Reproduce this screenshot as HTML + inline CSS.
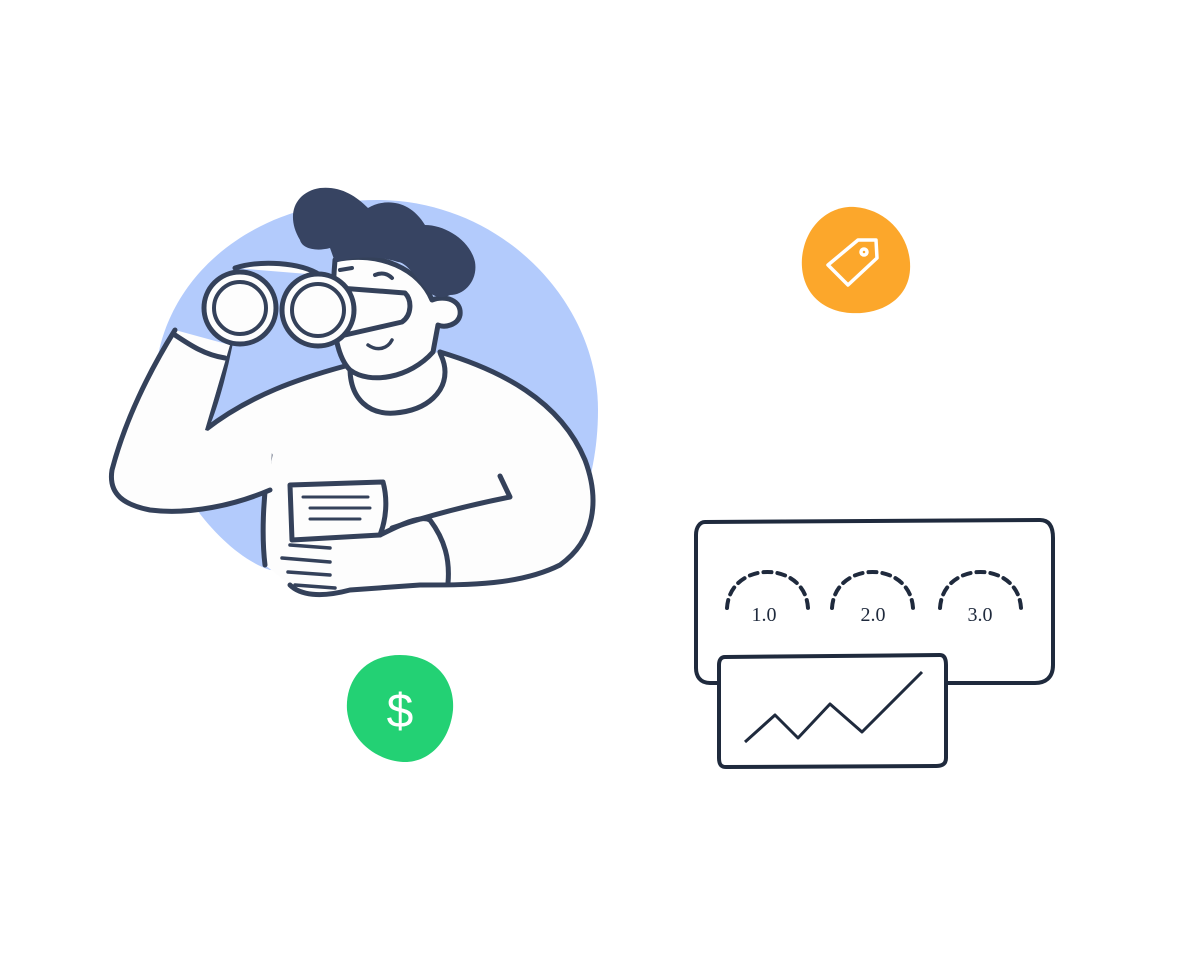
<!DOCTYPE html>
<html><head><meta charset="utf-8"><style>html,body{margin:0;padding:0;background:#fff}svg{display:block}</style></head>
<body>
<svg width="1200" height="959" viewBox="0 0 1200 959" xmlns="http://www.w3.org/2000/svg">
<rect width="1200" height="959" fill="#fff"/>
<path d="M377 200 C500 200 598 300 598 410 C598 470 580 520 560 545 L270 570 C240 560 210 530 190 500 C165 460 155 420 155 380 C160 280 250 200 377 200 Z" fill="#b3cbfc"/>
<g fill="none" stroke="#34415a" stroke-width="5" stroke-linecap="round" stroke-linejoin="round">
<path d="M205 430 C250 395 300 378 349 365 L440 352 C500 370 560 400 585 460 C600 500 595 540 560 565 C520 585 470 585 420 585 L350 590 C320 598 300 595 290 585 L265 565 C262 540 262 500 270 455 Z" fill="#fdfdfd" stroke="none"/>
<path d="M440 352 C500 370 560 400 585 460 C600 500 595 540 560 565 C520 585 470 585 420 585 L350 590 C320 598 300 595 290 585"/>
<path d="M349 365 C300 378 250 395 205 430 C215 410 225 370 230 345"/>
<path d="M270 455 C262 500 262 540 265 565" />
<path d="M175 330 C150 370 125 420 112 470 C108 495 125 505 150 510 C190 515 235 505 270 490 L272 450 L205 430 L230 345 Z" fill="#fdfdfd" stroke="none"/>
<path d="M175 330 C150 370 125 420 112 470 C108 495 125 505 150 510 C190 515 235 505 270 490"/>
<path d="M175 335 C190 345 205 355 225 358" />
<path d="M290 485 L383 482 C388 500 386 520 380 535 L292 540 Z" fill="#fdfdfd"/>
<path d="M303 497 L368 497 M310 508 L370 508 M310 519 L360 519" stroke-width="3"/>
<path d="M380 535 C400 525 420 515 430 520 C445 540 450 560 448 583" fill="#fdfdfd"/>
<path d="M392 528 C430 515 470 505 510 497 L500 476" />
<path d="M290 545 L330 548 M282 558 L330 562 M288 572 L330 575 M295 585 L335 588" stroke-width="3.5"/>
<path d="M350 368 C350 400 370 415 395 413 C430 410 445 390 445 372 C445 360 440 355 440 352" fill="#fdfdfd"/>
<path d="M335 260 C380 250 420 270 432 300 C445 295 462 300 460 315 C458 325 445 328 438 325 L433 352 C410 378 370 385 350 370 C335 355 330 320 335 260 Z" fill="#fdfdfd"/>
</g>
<path d="M300 240 C285 215 295 192 320 188 C340 186 355 195 368 208 C385 198 410 200 425 225 C445 225 470 240 475 262 C478 280 465 295 450 295 C440 300 432 296 425 288 C415 275 405 262 398 262 C380 256 360 256 335 262 L330 248 C315 252 302 248 300 240 Z" fill="#374462"/>
<g fill="none" stroke="#34415a" stroke-width="5" stroke-linecap="round" stroke-linejoin="round">
<path d="M368 345 C378 352 388 348 392 340" stroke-width="3.5"/>
<path d="M375 275 C382 272 388 274 392 278" stroke-width="4"/>
<path d="M340 270 L352 268" stroke-width="4"/>
<path d="M300 285 L405 293 C412 300 412 315 402 322 L345 335" fill="#fdfdfd"/>
<path d="M235 268 C260 260 300 262 320 275" fill="#fdfdfd"/>
<circle cx="240" cy="308" r="36" fill="#fdfdfd"/>
<circle cx="240" cy="308" r="26" fill="#fdfdfd" stroke-width="4"/>
<circle cx="318" cy="310" r="36" fill="#fdfdfd"/>
<circle cx="318" cy="310" r="26" fill="#fdfdfd" stroke-width="4"/>
</g>
<path d="M855 207 C890 210 912 240 910 270 C908 300 880 315 850 313 C815 310 800 285 802 258 C805 225 830 205 855 207 Z" fill="#fca72b"/>
<g fill="none" stroke="#fff" stroke-width="3.5" stroke-linejoin="round">
<path d="M858 240 L876 240 L877 258 L848 285 L828 265 Z"/>
<circle cx="864" cy="252" r="3"/>
</g>
<path d="M400 655 C435 655 455 680 453 710 C450 740 430 763 403 762 C375 760 350 740 347 710 C345 680 365 655 400 655 Z" fill="#23d174"/>
<text x="400" y="727" font-family="Liberation Sans, sans-serif" font-size="48" fill="#fff" text-anchor="middle">$</text>
<g fill="#fff" stroke="#1f2a3d" stroke-width="4" stroke-linejoin="round">
<path d="M705 522 L1040 520 C1050 520 1053 528 1053 538 L1053 665 C1053 678 1045 683 1035 683 L710 683 C700 683 696 676 696 668 L696 535 C696 527 700 522 705 522 Z"/>
<g fill="none" stroke-dasharray="8 6" stroke-width="4" stroke-linecap="round">
<path d="M727 608 C730 560 805 560 808 608"/>
<path d="M832 608 C835 560 910 560 913 608"/>
<path d="M940 608 C943 560 1018 560 1021 608"/>
</g>
<path d="M725 657 L940 655 C945 655 946 660 946 665 L946 758 C946 764 942 766 936 766 L726 767 C720 767 719 763 719 758 L719 665 C719 660 721 657 725 657 Z"/>
<path d="M745 742 L775 715 L798 738 L830 704 L862 732 L922 672" fill="none" stroke-width="3"/>
</g>
<g font-family="Liberation Serif, serif" font-size="20" fill="#1f2a3d" text-anchor="middle">
<text x="764" y="621">1.0</text><text x="873" y="621">2.0</text><text x="980" y="621">3.0</text>
</g>
</svg>
</body></html>
